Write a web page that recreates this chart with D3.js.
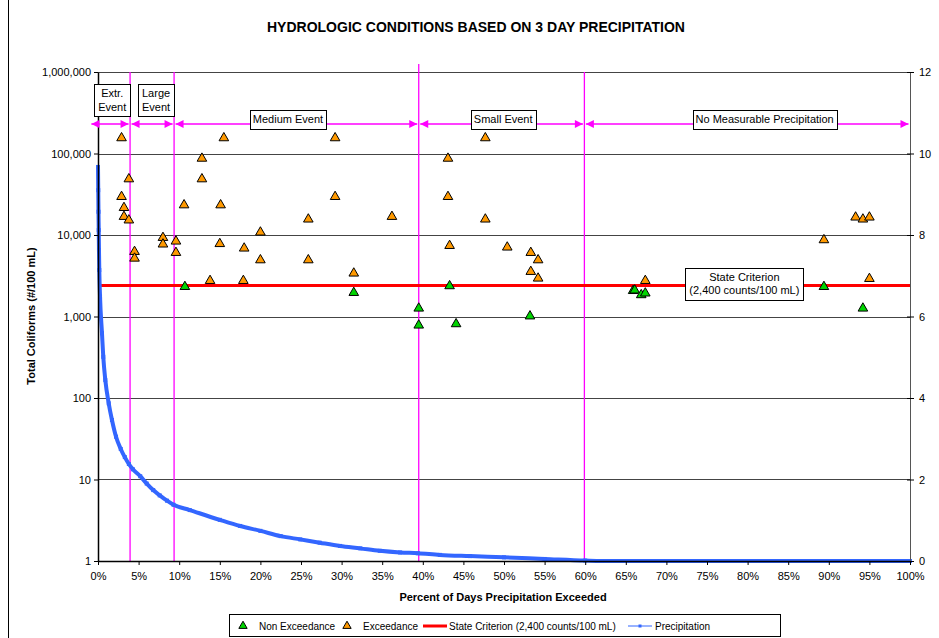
<!DOCTYPE html>
<html>
<head>
<meta charset="utf-8">
<script src="https://cdn.jsdelivr.net/npm/d3@7"></script>
<style>
  body { margin: 0; background: #fff; }
  svg text { font-family: "Liberation Sans", Arial, sans-serif; fill: #000; }
</style>
</head>
<body>
<svg id="chart" width="939" height="638"></svg>
<script>
// Samples above the criterion (percent of days exceeded, counts/100 mL)
const exceedPct = [2.9, 3.8, 2.9, 3.2, 3.2, 3.8, 4.5, 4.5, 8.0, 8.0, 9.6, 9.6, 10.6, 12.8, 12.8, 13.8, 15.1, 15.0, 15.5,
  18.0, 17.9, 20.0, 20.0, 25.9, 25.9, 29.2, 29.2, 31.5, 36.2, 43.1, 43.1, 43.3, 47.7, 47.7, 50.4, 53.3, 54.2, 53.3, 54.2,
  67.4, 89.4, 93.3, 94.2, 95.0, 95.0];
const exceedVal = [155000, 48600, 29500, 21600, 16800, 15200, 6240, 5170, 9270, 7700, 8370, 6070, 23300, 87000, 48600, 2750, 23300, 7800, 155000,
  6870, 2750, 10800, 4930, 15600, 4930, 155000, 29500, 3390, 16800, 87000, 29500, 7390, 155000, 15600, 7070, 6070, 4930, 3550, 2940,
  2750, 8690, 16500, 15600, 16500, 2910];

// Samples at or below the criterion
const nonExceedPct = [10.7, 31.5, 39.5, 39.5, 43.3, 44.1, 53.2, 65.9, 66.1, 66.9, 67.4, 89.4, 94.2];
const nonExceedVal = [2320, 1960, 1260, 780, 2370, 810, 1010, 2070, 2100, 1840, 1930, 2320, 1260];

// 3 day precipitation duration curve (right axis)
const precipPct = [0, 0.03, 0.06, 0.09, 0.12, 0.16, 0.25, 0.49, 0.65, 0.9, 1.32, 1.72, 2.22, 2.8, 3.3, 3.8, 4.3, 5.2, 6.0, 6.8, 7.6, 8.5, 9.3,
  11.3, 15, 17.5, 20, 22.5, 24.9, 27.3, 29.8, 32.3, 34.7, 37.2, 39.4, 42.1, 45.8, 50, 55, 60, 62, 70, 80, 90, 100];
const precipVal = [9.67, 9.1, 8.57, 8.12, 7.63, 7.14, 6.49, 5.59, 5.01, 4.44, 3.87, 3.46, 3.05, 2.75, 2.55, 2.38, 2.25, 2.08, 1.90, 1.74, 1.61, 1.48, 1.38,
  1.25, 1.01, 0.86, 0.74, 0.61, 0.53, 0.45, 0.37, 0.31, 0.25, 0.21, 0.19, 0.15, 0.12, 0.09, 0.05, 0.01, 0, 0, 0, 0, 0];

const criterion = 2400;
const eventBounds = [3.95, 9.37, 39.5, 59.9];
const arrowBounds = [-1, 3.95, 9.37, 39.5, 59.9, 100];
const eventNames = [["Extr.", "Event"], ["Large", "Event"], ["Medium Event"], ["Small Event"], ["No Measurable Precipitation"]];
const eventLabelPct = [1.75, 7.15, 23.4, 49.9, 82.1];

const leftTicks = [1, 10, 100, 1000, 10000, 100000, 1000000];
const rightTicks = [0, 2, 4, 6, 8, 10, 12];
const xTicks = [0, 5, 10, 15, 20, 25, 30, 35, 40, 45, 50, 55, 60, 65, 70, 75, 80, 85, 90, 95, 100];

const margin = { top: 72, right: 29, bottom: 77, left: 98 };
const width = 939, height = 638;
const magenta = '#ff00ff';

const svg = d3.select('#chart');

const x = d3.scaleLinear().domain([0, 100]).range([margin.left, width - margin.right]);
const y = d3.scaleLog().domain([1, 1000000]).range([height - margin.bottom, margin.top]);
const y2 = d3.scaleLinear().domain([0, 12]).range([height - margin.bottom, margin.top]);

// outer frame edge
svg.append('line').attr('x1', 8.5).attr('x2', 8.5).attr('y1', 0).attr('y2', height)
  .attr('stroke', '#000').attr('stroke-width', 1);

// title
svg.append('text').attr('x', 476).attr('y', 32).attr('text-anchor', 'middle')
  .style('font-size', '14px').style('font-weight', 'bold')
  .text('HYDROLOGIC CONDITIONS BASED ON 3 DAY PRECIPITATION');

// gridlines
svg.append('g').selectAll('line')
  .data(leftTicks.filter(d => d > 1))
  .join('line')
  .attr('x1', x(0)).attr('x2', x(100))
  .attr('y1', d => Math.round(y(d)) + 0.5).attr('y2', d => Math.round(y(d)) + 0.5)
  .attr('stroke', '#444').attr('stroke-width', 1);

// event boundaries
svg.append('g').selectAll('line')
  .data(eventBounds)
  .join('line')
  .attr('x1', d => x(d)).attr('x2', d => x(d))
  .attr('y1', d => d === 39.5 ? margin.top - 8 : margin.top).attr('y2', y(1))
  .attr('stroke', magenta).attr('stroke-width', 1.3);

// state criterion
svg.append('line')
  .attr('x1', x(0)).attr('x2', x(100))
  .attr('y1', y(criterion)).attr('y2', y(criterion))
  .attr('stroke', '#ff0000').attr('stroke-width', 3);

// precipitation curve
const precip = precipPct.map((p, i) => ({ p, v: precipVal[i] }));
const line = d3.line().x(d => x(d.p)).y(d => y2(d.v)).curve(d3.curveMonotoneX);
svg.append('path').datum(precip)
  .attr('d', line)
  .attr('fill', 'none')
  .attr('stroke', '#3366ff')
  .attr('stroke-width', 4)
  .attr('stroke-linejoin', 'round');
svg.append('g').selectAll('rect')
  .data(precip)
  .join('rect')
  .attr('x', d => x(d.p) - 2).attr('y', d => y2(d.v) - 2)
  .attr('width', 4).attr('height', 4)
  .attr('fill', '#3366ff');

// axes
const xAxis = svg.append('g')
  .attr('transform', `translate(0,${y(1)})`)
  .call(d3.axisBottom(x).tickValues(xTicks).tickFormat(d => d + '%').tickSize(4).tickSizeOuter(0).tickPadding(7));

const yAxis = svg.append('g')
  .attr('transform', `translate(${x(0)},0)`)
  .call(d3.axisLeft(y).tickValues(leftTicks).tickFormat(d3.format(',')).tickSize(4).tickSizeOuter(0).tickPadding(3));

const y2Axis = svg.append('g')
  .attr('transform', `translate(${x(100)},0)`)
  .call(d3.axisRight(y2).tickValues(rightTicks).tickSize(4).tickSizeOuter(0).tickPadding(5));
y2Axis.selectAll('.tick line').attr('x1', -3);
y2Axis.select('.domain').attr('stroke', '#555');

[xAxis, yAxis, y2Axis].forEach(a => {
  a.selectAll('text').style('font-size', '11px').style('font-family', '"Liberation Sans", Arial, sans-serif');
});
xAxis.select('.domain').attr('stroke-width', 1.5);
yAxis.select('.domain').attr('stroke-width', 1.5);

// axis titles
svg.append('text').attr('x', 503).attr('y', 601).attr('text-anchor', 'middle')
  .style('font-size', '11px').style('font-weight', 'bold')
  .text('Percent of Days Precipitation Exceeded');
svg.append('text').attr('transform', 'translate(35,316) rotate(-90)').attr('text-anchor', 'middle')
  .style('font-size', '11px').style('font-weight', 'bold')
  .text('Total Coliforms (#/100 mL)');

// event arrows
const arrowY = 124;
const arrows = svg.append('g');
d3.pairs(arrowBounds).forEach(([a, b]) => {
  const xa = x(a) + 1.5, xb = x(b) - 1.5;
  arrows.append('line').attr('x1', xa).attr('x2', xb).attr('y1', arrowY).attr('y2', arrowY)
    .attr('stroke', magenta).attr('stroke-width', 1.5);
  arrows.append('path').attr('d', `M${xa},${arrowY}L${xa + 8},${arrowY - 4}L${xa + 8},${arrowY + 4}Z`).attr('fill', magenta);
  arrows.append('path').attr('d', `M${xb},${arrowY}L${xb - 8},${arrowY - 4}L${xb - 8},${arrowY + 4}Z`).attr('fill', magenta);
});

// text box helper
function labelBox(cx, cy, lines, padX) {
  const g = svg.append('g');
  const rect = g.append('rect').attr('fill', '#fff').attr('stroke', '#000').attr('stroke-width', 1);
  const lh = 13.5;
  const t = g.append('text').attr('text-anchor', 'middle').style('font-size', '11px');
  lines.forEach((s, i) => {
    t.append('tspan').attr('x', cx).attr('y', cy - (lines.length - 1) * lh / 2 + i * lh + 4).text(s);
  });
  const bb = t.node().getBBox();
  const h = lines.length * lh + 5;
  rect.attr('x', Math.round(bb.x - padX) + 0.5).attr('y', Math.round(cy - h / 2) + 0.5)
    .attr('width', Math.round(bb.width + 2 * padX)).attr('height', Math.round(h));
}

eventNames.forEach((lines, i) => {
  if (lines.length > 1) labelBox(x(eventLabelPct[i]), 100, lines, 4);
  else labelBox(x(eventLabelPct[i]), 119, lines, 3);
});
labelBox(x(79.6), y(criterion) - 2, ['State Criterion', '(2,400 counts/100 mL)'], 4);

// samples
const tri = d3.symbol(d3.symbolTriangle, 40);
svg.append('g').selectAll('path')
  .data(exceedPct.map((p, i) => [p, exceedVal[i]]))
  .join('path')
  .attr('d', tri)
  .attr('transform', d => `translate(${x(d[0])},${y(d[1])})`)
  .attr('fill', '#ff9900').attr('stroke', '#000').attr('stroke-width', 1);
svg.append('g').selectAll('path')
  .data(nonExceedPct.map((p, i) => [p, nonExceedVal[i]]))
  .join('path')
  .attr('d', tri)
  .attr('transform', d => `translate(${x(d[0])},${y(d[1])})`)
  .attr('fill', '#00d400').attr('stroke', '#000').attr('stroke-width', 1);

// legend
const lg = svg.append('g');
lg.append('rect').attr('x', 229.5).attr('y', 614.5).attr('width', 551).attr('height', 22)
  .attr('fill', '#fff').attr('stroke', '#000');
const ly = 626;
lg.append('path').attr('d', d3.symbol(d3.symbolTriangle, 30)).attr('transform', `translate(243,${ly})`)
  .attr('fill', '#00d400').attr('stroke', '#000');
lg.append('text').attr('x', 259).attr('y', ly + 4).style('font-size', '10px').text('Non Exceedance');
lg.append('path').attr('d', d3.symbol(d3.symbolTriangle, 30)).attr('transform', `translate(347,${ly})`)
  .attr('fill', '#ff9900').attr('stroke', '#000');
lg.append('text').attr('x', 363).attr('y', ly + 4).style('font-size', '10px').text('Exceedance');
lg.append('line').attr('x1', 423).attr('x2', 447).attr('y1', ly).attr('y2', ly).attr('stroke', '#ff0000').attr('stroke-width', 3);
lg.append('text').attr('x', 449).attr('y', ly + 4).style('font-size', '10px').text('State Criterion (2,400 counts/100 mL)');
lg.append('line').attr('x1', 628).attr('x2', 652).attr('y1', ly).attr('y2', ly).attr('stroke', '#3366ff').attr('stroke-width', 1);
lg.append('rect').attr('x', 638.5).attr('y', ly - 1.5).attr('width', 3).attr('height', 3).attr('fill', '#3366ff');
lg.append('text').attr('x', 655).attr('y', ly + 4).style('font-size', '10px').text('Precipitation');
</script>
</body>
</html>
